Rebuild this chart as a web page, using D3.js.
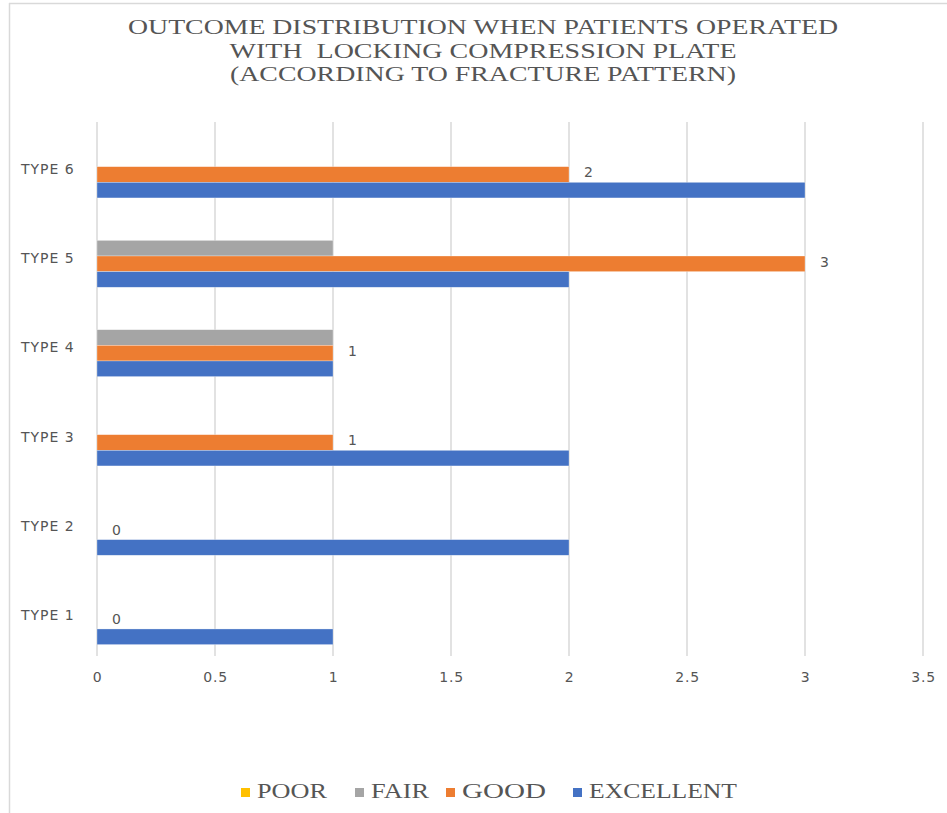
<!DOCTYPE html>
<html>
<head>
<meta charset="utf-8">
<script src="https://cdn.jsdelivr.net/npm/d3@7/dist/d3.min.js"></script>
<style>
  html, body { margin: 0; padding: 0; background: #fff; }
  svg { display: block; }
</style>
</head>
<body>
<svg id="chart" width="947" height="813"></svg>
<script>
// Fracture pattern categories (bottom to top as drawn)
const categories = ["TYPE 1", "TYPE 2", "TYPE 3", "TYPE 4", "TYPE 5", "TYPE 6"];
// Outcome series, in legend order
const seriesNames = ["POOR", "FAIR", "GOOD", "EXCELLENT"];
const seriesColors = ["#FFC000", "#A5A5A5", "#ED7D31", "#4472C4"];
// Patient counts per category
const poor      = [0, 0, 0, 0, 0, 0];
const fair      = [0, 0, 0, 1, 1, 0];
const good      = [0, 0, 1, 1, 3, 2];
const excellent = [1, 2, 2, 1, 2, 3];
// Value axis ticks
const xTicks = [0, 0.5, 1, 1.5, 2, 2.5, 3, 3.5];

const titleLines = [
  "OUTCOME DISTRIBUTION WHEN PATIENTS OPERATED",
  "WITH  LOCKING COMPRESSION PLATE",
  "(ACCORDING TO FRACTURE PATTERN)"
];

const seriesValues = [poor, fair, good, excellent];
const svg = d3.select("#chart");
const textGray = "#555555";
const gridGray = "#d9d9d9";
const labelFont = "'DejaVu Sans', Verdana, sans-serif";

// Chart frame (left and top edges)
svg.append("line").attr("x1", 9.5).attr("x2", 9.5).attr("y1", 3).attr("y2", 813)
  .attr("stroke", gridGray).attr("stroke-width", 1.5);
svg.append("line").attr("x1", 9).attr("x2", 947).attr("y1", 3.5).attr("y2", 3.5)
  .attr("stroke", gridGray).attr("stroke-width", 1.5);

// Title
const titleWidths = [710, 507, 506];
svg.append("g").selectAll("text").data(titleLines).join("text")
  .attr("x", 483)
  .attr("y", (d, i) => 34 + i * 23.5)
  .attr("text-anchor", "middle")
  .attr("font-family", "'Liberation Serif', 'Times New Roman', serif")
  .attr("font-size", 21)
  .attr("fill", textGray)
  .attr("textLength", (d, i) => titleWidths[i])
  .attr("lengthAdjust", "spacingAndGlyphs")
  .style("white-space", "pre")
  .text(d => d);

// Scales
const x = d3.scaleLinear().domain([0, 3.5]).range([97, 923]);
const y = d3.scaleBand().domain(categories.slice().reverse()).range([122, 658]).padding(0);
const bandPad = y.bandwidth() * 0.15;
const ySeries = d3.scaleBand().domain(seriesNames)
  .range([bandPad, y.bandwidth() - bandPad]).padding(0);

// Gridlines
svg.append("g").selectAll("line").data(xTicks).join("line")
  .attr("x1", d => x(d)).attr("x2", d => x(d))
  .attr("y1", 122).attr("y2", 656)
  .attr("stroke", gridGray).attr("stroke-width", 1.5);

// Value axis tick labels
const xAxis = d3.axisBottom(x).tickValues(xTicks).tickSize(0).tickPadding(0)
  .tickFormat(d => String(d));
const gx = svg.append("g").attr("transform", "translate(0,672)").call(xAxis);
gx.select(".domain").remove();
gx.selectAll("text")
  .attr("font-family", labelFont)
  .attr("font-size", 14)
  .attr("letter-spacing", 0.8)
  .attr("fill", textGray);

// Category labels
svg.append("g").selectAll("text").data(categories).join("text")
  .attr("x", 21)
  .attr("y", d => y(d) + y.bandwidth() / 2 + 3)
  .attr("dominant-baseline", "middle")
  .attr("font-family", labelFont)
  .attr("font-size", 14)
  .attr("letter-spacing", 1)
  .attr("fill", textGray)
  .text(d => d);

// Bars
const rows = [];
categories.forEach((c, ci) => {
  seriesNames.forEach((s, si) => {
    rows.push({ cat: c, series: s, value: seriesValues[si][ci], color: seriesColors[si] });
  });
});

svg.append("g").selectAll("rect").data(rows.filter(d => d.value > 0)).join("rect")
  .attr("x", x(0))
  .attr("y", d => y(d.cat) + ySeries(d.series))
  .attr("width", d => x(d.value) - x(0))
  .attr("height", ySeries.bandwidth())
  .attr("fill", d => d.color)
  .attr("stroke", "#ffffff")
  .attr("stroke-opacity", 0.5)
  .attr("stroke-width", 0.6);

// Data labels on the GOOD series
svg.append("g").selectAll("text").data(rows.filter(d => d.series === "GOOD")).join("text")
  .attr("x", d => x(d.value) + 15)
  .attr("y", d => y(d.cat) + ySeries(d.series) + ySeries.bandwidth() / 2 - 1)
  .attr("dominant-baseline", "middle")
  .attr("font-family", labelFont)
  .attr("font-size", 14)
  .attr("fill", textGray)
  .text(d => d.value);

// Legend
const legendX = [241, 355, 446, 573];
const legendW = [70, 58, 84, 148];
const lg = svg.append("g").selectAll("g").data(seriesNames).join("g")
  .attr("transform", (d, i) => `translate(${legendX[i]},793)`);
lg.append("rect").attr("x", 0).attr("y", -5).attr("width", 9).attr("height", 9)
  .attr("fill", (d, i) => seriesColors[i]);
lg.append("text")
  .attr("x", 16).attr("y", 0)
  .attr("dominant-baseline", "middle")
  .attr("font-family", "'Liberation Serif', 'Times New Roman', serif")
  .attr("font-size", 20)
  .attr("fill", textGray)
  .attr("textLength", (d, i) => legendW[i])
  .attr("lengthAdjust", "spacingAndGlyphs")
  .text(d => d);
</script>
</body>
</html>
